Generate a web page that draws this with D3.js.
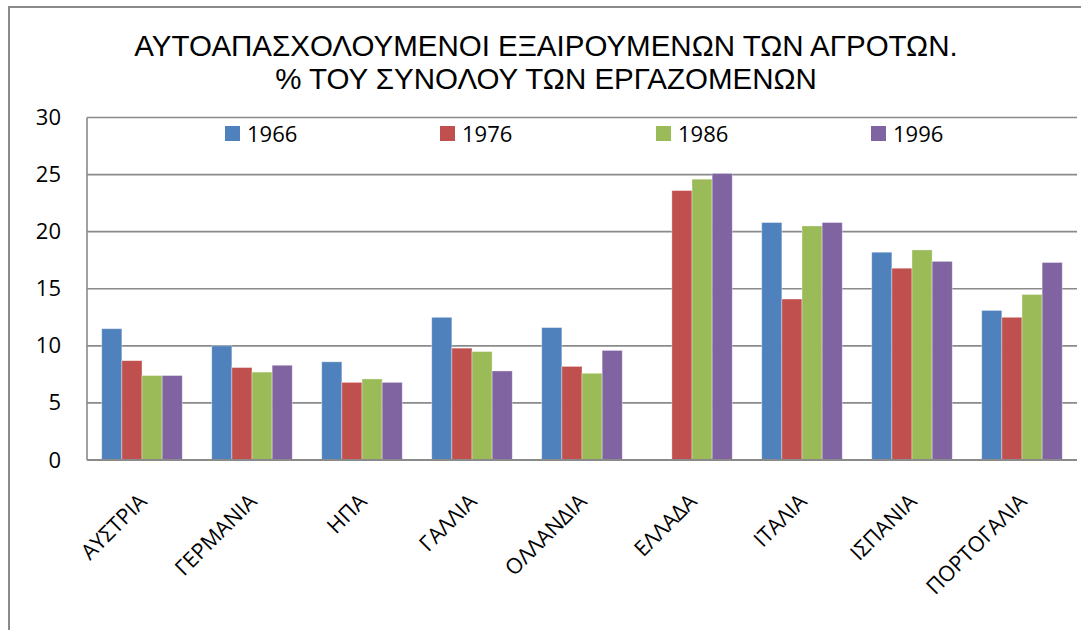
<!DOCTYPE html>
<html>
<head>
<meta charset="utf-8">
<script src="https://cdn.jsdelivr.net/npm/d3@7"></script>
<style>
  body { margin: 0; background: #fff; }
</style>
</head>
<body>
<svg id="chart" width="1081" height="630"></svg>
<script>
const countries = ["ΑΥΣΤΡΙΑ", "ΓΕΡΜΑΝΙΑ", "ΗΠΑ", "ΓΑΛΛΙΑ", "ΟΛΛΑΝΔΙΑ", "ΕΛΛΑΔΑ", "ΙΤΑΛΙΑ", "ΙΣΠΑΝΙΑ", "ΠΟΡΤΟΓΑΛΙΑ"]
const years = ["1966", "1976", "1986", "1996"]
const v1966 = [11.5, 10.0, 8.6, 12.5, 11.6, null, 20.8, 18.2, 13.1]
const v1976 = [8.7, 8.1, 6.8, 9.8, 8.2, 23.6, 14.1, 16.8, 12.5]
const v1986 = [7.4, 7.7, 7.1, 9.5, 7.6, 24.6, 20.5, 18.4, 14.5]
const v1996 = [7.4, 8.3, 6.8, 7.8, 9.6, 25.1, 20.8, 17.4, 17.3]
const yTicks = [0, 5, 10, 15, 20, 25, 30]
const titleLines = ["ΑΥΤΟΑΠΑΣΧΟΛΟΥΜΕΝΟΙ ΕΞΑΙΡΟΥΜΕΝΩΝ ΤΩΝ ΑΓΡΟΤΩΝ.", "% ΤΟΥ ΣΥΝΟΛΟΥ ΤΩΝ ΕΡΓΑΖΟΜΕΝΩΝ"]

const series = [v1966, v1976, v1986, v1996]
const colors = ["#4F81BD", "#C0504D", "#9BBB59", "#8064A2"]
const gridColor = "#8a8a8a"
const tickFont = "'Open Sans', sans-serif"

const plotLeft = 87, plotRight = 1077, plotTop = 117.5, plotBottom = 460

const svg = d3.select("#chart")

// outer chart border (runs off the right and bottom of the picture)
svg.append("rect")
  .attr("x", 9).attr("y", 7)
  .attr("width", 1100).attr("height", 650)
  .attr("fill", "#fff")
  .attr("stroke", gridColor)
  .attr("stroke-width", 2)

const x0 = d3.scaleBand().domain(countries).range([plotLeft, plotRight]).paddingInner(0.268).paddingOuter(0.134)
const x1 = d3.scaleBand().domain(years).range([0, x0.bandwidth()])
const y = d3.scaleLinear().domain([0, 30]).range([plotBottom, plotTop])

// gridlines
svg.append("g")
  .selectAll("line")
  .data(yTicks)
  .join("line")
  .attr("x1", plotLeft).attr("x2", plotRight)
  .attr("y1", d => y(d)).attr("y2", d => y(d))
  .attr("stroke", gridColor)
  .attr("stroke-width", 1.6)

// plot area left edge
svg.append("line")
  .attr("x1", plotLeft).attr("x2", plotLeft)
  .attr("y1", plotTop).attr("y2", plotBottom)
  .attr("stroke", gridColor)
  .attr("stroke-width", 1.6)

// bars
const groups = svg.append("g")
  .selectAll("g")
  .data(countries)
  .join("g")
  .attr("transform", d => `translate(${x0(d)},0)`)

groups.selectAll("rect")
  .data((c, i) => years.map((yr, s) => ({ yr, s, v: series[s][i] })).filter(d => d.v != null))
  .join("rect")
  .attr("x", d => x1(d.yr))
  .attr("width", x1.bandwidth())
  .attr("y", d => y(d.v))
  .attr("height", d => y(0) - y(d.v))
  .attr("fill", d => colors[d.s])
  .attr("stroke", "rgba(255,255,255,0.45)")
  .attr("stroke-width", 0.8)

// bottom axis line on top of bars
svg.append("line")
  .attr("x1", plotLeft).attr("x2", plotRight)
  .attr("y1", plotBottom).attr("y2", plotBottom)
  .attr("stroke", gridColor)
  .attr("stroke-width", 2)

// y axis labels
const yAxis = d3.axisLeft(y).tickValues(yTicks).tickSize(0).tickPadding(26)
svg.append("g")
  .attr("transform", `translate(${plotLeft},0)`)
  .call(yAxis)
  .call(g => g.select(".domain").remove())
  .selectAll("text")
  .attr("font-family", tickFont)
  .attr("font-size", "22px")
  .attr("fill", "#000")

// category labels, rotated
svg.append("g")
  .selectAll("text")
  .data(countries)
  .join("text")
  .attr("transform", d => `translate(${x0(d) + x0.bandwidth() / 2 + 6},503) rotate(-45)`)
  .attr("text-anchor", "end")
  .attr("font-family", tickFont)
  .attr("font-size", "21.5px")
  .attr("fill", "#000")
  .text(d => d)

// legend
const legendX = [225, 440, 656, 871]
const legend = svg.append("g")
  .selectAll("g")
  .data(years)
  .join("g")
  .attr("transform", (d, i) => `translate(${legendX[i]},126)`)
legend.append("rect")
  .attr("width", 15).attr("height", 15)
  .attr("fill", (d, i) => colors[i])
legend.append("text")
  .attr("x", 22).attr("y", 15.5)
  .attr("font-family", tickFont)
  .attr("font-size", "22px")
  .attr("fill", "#000")
  .text(d => d)

// title
svg.append("g")
  .selectAll("text")
  .data(titleLines)
  .join("text")
  .attr("x", 546)
  .attr("y", (d, i) => 56 + i * 33)
  .attr("text-anchor", "middle")
  .attr("font-family", "'Liberation Sans', Arial, sans-serif")
  .attr("font-size", "29.5px")
  .attr("fill", "#000")
  .text(d => d)
</script>
</body>
</html>
